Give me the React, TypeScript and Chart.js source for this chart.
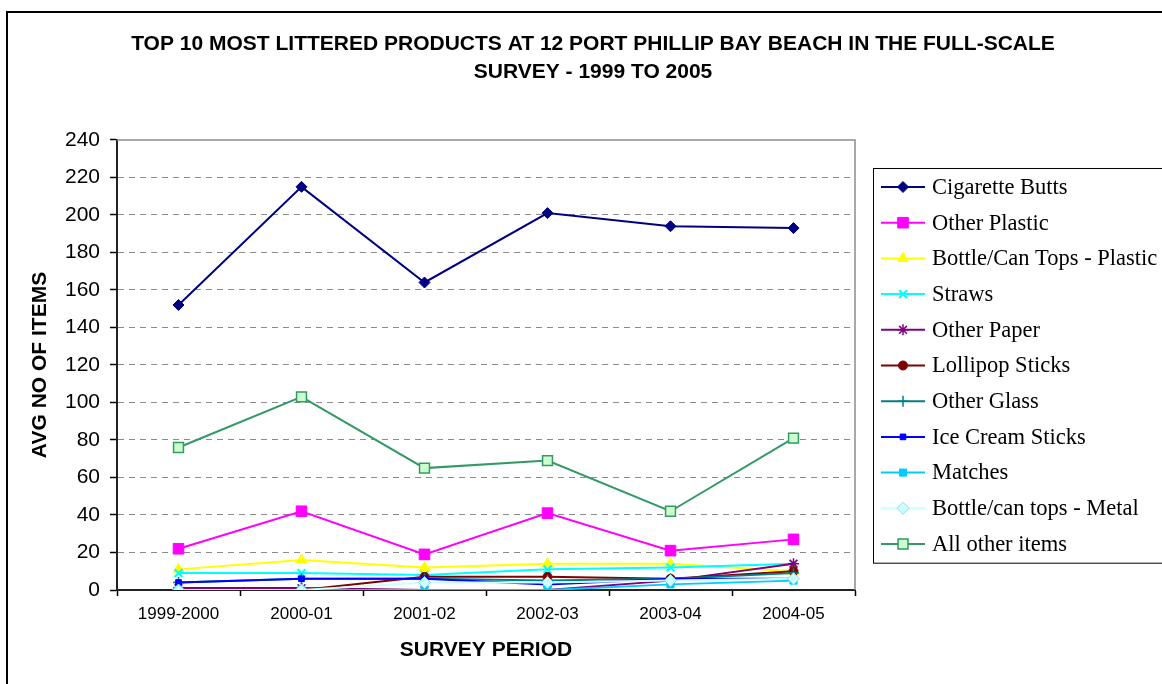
import React, { useEffect, useRef } from "react";
import { Chart, registerables } from "chart.js";
import { drawPoint } from "chart.js/helpers";

Chart.register(...registerables);

// ---------- data ----------
const periods = ["1999-2000", "2000-01", "2001-02", "2002-03", "2003-04", "2004-05"];

const seriesNames = [
  "Cigarette Butts",
  "Other Plastic",
  "Bottle/Can Tops - Plastic",
  "Straws",
  "Other Paper",
  "Lollipop Sticks",
  "Other Glass",
  "Ice Cream Sticks",
  "Matches",
  "Bottle/can tops - Metal",
  "All other items",
];

const cigaretteButts = [152, 215, 164, 201, 194, 193];
const otherPlastic = [22, 42, 19, 41, 21, 27];
const bottleCanTopsPlastic = [11, 16, 12, 14, 14, 10];
const straws = [9, 9, 8, 11, 12, 14];
const otherPaper = [1, 1, 0, 0, 5, 14];
const lollipopSticks = [0, 0, 7, 7, 6, 10];
const otherGlass = [4, 6, 6, 5, 6, 9];
const iceCreamSticks = [4, 6, 6, 3, 6, 6];
const matches = [0, 0, 0, 0, 3, 5];
const bottleCanTopsMetal = [0, 0, 4, 4, 5, 6];
const allOtherItems = [76, 103, 65, 69, 42, 81];

const seriesValues = [
  cigaretteButts,
  otherPlastic,
  bottleCanTopsPlastic,
  straws,
  otherPaper,
  lollipopSticks,
  otherGlass,
  iceCreamSticks,
  matches,
  bottleCanTopsMetal,
  allOtherItems,
];

const yMin = 0;
const yMax = 240;
const yStep = 20;

const titleLines = [
  "TOP 10 MOST LITTERED PRODUCTS AT 12 PORT PHILLIP BAY BEACH IN THE FULL-SCALE",
  "SURVEY - 1999 TO 2005",
];
const yTitle = "AVG NO OF ITEMS";
const xTitle = "SURVEY PERIOD";

// ---------- styles ----------
type Style = {
  line: string;
  fill: string;
  border: string;
  pointStyle: string;
  radius: number;
  pointBorderWidth: number;
  lineWidth: number;
};

const styles: Style[] = [
  { line: "#000080", fill: "#000080", border: "#000080", pointStyle: "rectRot", radius: 5.5, pointBorderWidth: 1, lineWidth: 2 },
  { line: "#FF00FF", fill: "#FF00FF", border: "#FF00FF", pointStyle: "rect", radius: 7.5, pointBorderWidth: 1, lineWidth: 2 },
  { line: "#FFFF00", fill: "#FFFF00", border: "#FFFF00", pointStyle: "triangle", radius: 6, pointBorderWidth: 1, lineWidth: 2 },
  { line: "#00FFFF", fill: "#00FFFF", border: "#00FFFF", pointStyle: "crossRot", radius: 5.5, pointBorderWidth: 2, lineWidth: 2 },
  { line: "#800080", fill: "#800080", border: "#800080", pointStyle: "star", radius: 5.5, pointBorderWidth: 1.5, lineWidth: 2 },
  { line: "#800000", fill: "#800000", border: "#800000", pointStyle: "circle", radius: 4.5, pointBorderWidth: 1, lineWidth: 2 },
  { line: "#008080", fill: "#008080", border: "#008080", pointStyle: "cross", radius: 5.5, pointBorderWidth: 1.5, lineWidth: 2 },
  { line: "#0000FF", fill: "#0000FF", border: "#0000FF", pointStyle: "rect", radius: 4, pointBorderWidth: 1, lineWidth: 2 },
  { line: "#00CCFF", fill: "#00CCFF", border: "#00CCFF", pointStyle: "rect", radius: 5, pointBorderWidth: 1, lineWidth: 2 },
  { line: "#CCFFFF", fill: "#CCFFFF", border: "#88DDEE", pointStyle: "rectRot", radius: 6, pointBorderWidth: 1, lineWidth: 2 },
  { line: "#339966", fill: "#CCFFCC", border: "#339966", pointStyle: "rect", radius: 7, pointBorderWidth: 1.5, lineWidth: 2 },
];

const SANS = "Arial, 'Liberation Sans', sans-serif";
const SERIF = "'Liberation Serif', 'Times New Roman', serif";

// plot-area top/right border (gray)
const plotBorderPlugin = {
  id: "plotBorder",
  beforeDatasetsDraw(chart: any) {
    const { ctx, chartArea } = chart;
    ctx.save();
    ctx.strokeStyle = "#8c8c8c";
    ctx.lineWidth = 1.5;
    ctx.beginPath();
    ctx.moveTo(chartArea.left, chartArea.top);
    ctx.lineTo(chartArea.right, chartArea.top);
    ctx.lineTo(chartArea.right, chartArea.bottom);
    ctx.stroke();
    ctx.restore();
  },
};

// boxed legend at the right, with line + marker samples
const legendPlugin = {
  id: "boxLegend",
  afterDraw(chart: any) {
    const { ctx, chartArea } = chart;
    const boxLeft = chartArea.right + 18;
    const boxTop = chartArea.top + 28;
    const rowH = 35.7;
    const boxH = rowH * seriesNames.length + 2;
    ctx.save();
    ctx.strokeStyle = "#000";
    ctx.lineWidth = 1;
    ctx.strokeRect(boxLeft + 0.5, boxTop + 0.5, 400, boxH);
    seriesNames.forEach((name, i) => {
      const s = styles[i];
      const y = boxTop + 19 + i * rowH;
      ctx.strokeStyle = s.line;
      ctx.lineWidth = s.lineWidth;
      ctx.beginPath();
      ctx.moveTo(boxLeft + 8, y);
      ctx.lineTo(boxLeft + 52, y);
      ctx.stroke();
      ctx.fillStyle = s.fill;
      ctx.strokeStyle = s.border;
      ctx.lineWidth = s.pointBorderWidth;
      drawPoint(ctx, { pointStyle: s.pointStyle, radius: s.radius, rotation: 0, borderWidth: s.pointBorderWidth } as any, boxLeft + 30, y);
      ctx.fillStyle = "#000";
      ctx.font = `22.5px ${SERIF}`;
      ctx.textBaseline = "middle";
      ctx.textAlign = "left";
      ctx.fillText(name, boxLeft + 59, y + 1);
    });
    ctx.restore();
  },
};

export default function App() {
  const ref = useRef<HTMLCanvasElement>(null);

  useEffect(() => {
    const canvas = ref.current;
    if (!canvas) return;
    const n = seriesNames.length;
    const datasets = seriesNames.map((name, i) => {
      const s = styles[i];
      return {
        label: name,
        data: seriesValues[i],
        borderColor: s.line,
        backgroundColor: s.fill,
        borderWidth: s.lineWidth,
        pointStyle: s.pointStyle as any,
        pointRadius: s.radius,
        pointBackgroundColor: s.fill,
        pointBorderColor: s.border,
        pointBorderWidth: s.pointBorderWidth,
        tension: 0,
        fill: false,
        order: n - i,
      };
    });

    const chart = new Chart(canvas, {
      type: "line",
      data: { labels: periods, datasets },
      options: {
        responsive: false,
        animation: false,
        devicePixelRatio: 1,
        layout: { padding: { left: 24, right: 0, top: 0, bottom: 0 } },
        plugins: {
          legend: { display: false },
          tooltip: { enabled: false },
          title: {
            display: true,
            text: titleLines,
            color: "#000",
            font: { family: SANS, size: 21, weight: "bold", lineHeight: 1.333 },
            padding: { top: 30, bottom: 54 },
          },
        },
        scales: {
          x: {
            type: "category",
            offset: true,
            grid: {
              display: true,
              offset: true,
              drawOnChartArea: false,
              drawTicks: true,
              tickLength: 6,
              tickColor: "#000",
              tickWidth: 1.5,
            },
            border: { display: true, color: "#222", width: 2 },
            ticks: { color: "#000", font: { family: SANS, size: 17 }, padding: 8, maxRotation: 0 },
            title: {
              display: true,
              text: xTitle,
              color: "#000",
              font: { family: SANS, size: 21, weight: "bold" },
              padding: { top: 0, bottom: 21 },
            },
            afterFit: (s: any) => {
              s.height = 94;
            },
          },
          y: {
            type: "linear",
            position: "left",
            min: yMin,
            max: yMax,
            ticks: { stepSize: yStep, color: "#000", font: { family: SANS, size: 21 }, padding: 10 },
            grid: {
              color: (c: any) =>
                c.tick && (c.tick.value === yMin || c.tick.value === yMax) ? "rgba(0,0,0,0)" : "#8c8c8c",
              lineWidth: 1,
              drawTicks: true,
              tickLength: 7,
              tickColor: "#000",
              tickWidth: 1.5,
            },
            border: { display: true, color: "#222", width: 2, dash: [6, 5] },
            title: {
              display: true,
              text: yTitle,
              color: "#000",
              font: { family: SANS, size: 21, weight: "bold" },
              padding: { top: 4, bottom: 0 },
            },
            afterFit: (s: any) => {
              s.width = 93;
            },
          },
          yRight: {
            type: "linear",
            position: "right",
            display: true,
            grid: { display: false, drawOnChartArea: false, drawTicks: false },
            border: { display: false },
            ticks: { display: false },
            afterFit: (s: any) => {
              s.width = 307;
            },
          },
        },
      } as any,
      plugins: [plotBorderPlugin, legendPlugin],
    });

    return () => chart.destroy();
  }, []);

  return (
    <div
      style={{
        position: "fixed",
        left: 0,
        top: 0,
        width: 1162,
        height: 684,
        background: "#fff",
        overflow: "hidden",
      }}
    >
      <canvas ref={ref} width={1162} height={684} style={{ display: "block", width: 1162, height: 684 }} />
      <div
        style={{
          position: "absolute",
          left: 6,
          top: 11,
          width: 1200,
          height: 700,
          border: "2px solid #000",
          pointerEvents: "none",
        }}
      />
    </div>
  );
}
